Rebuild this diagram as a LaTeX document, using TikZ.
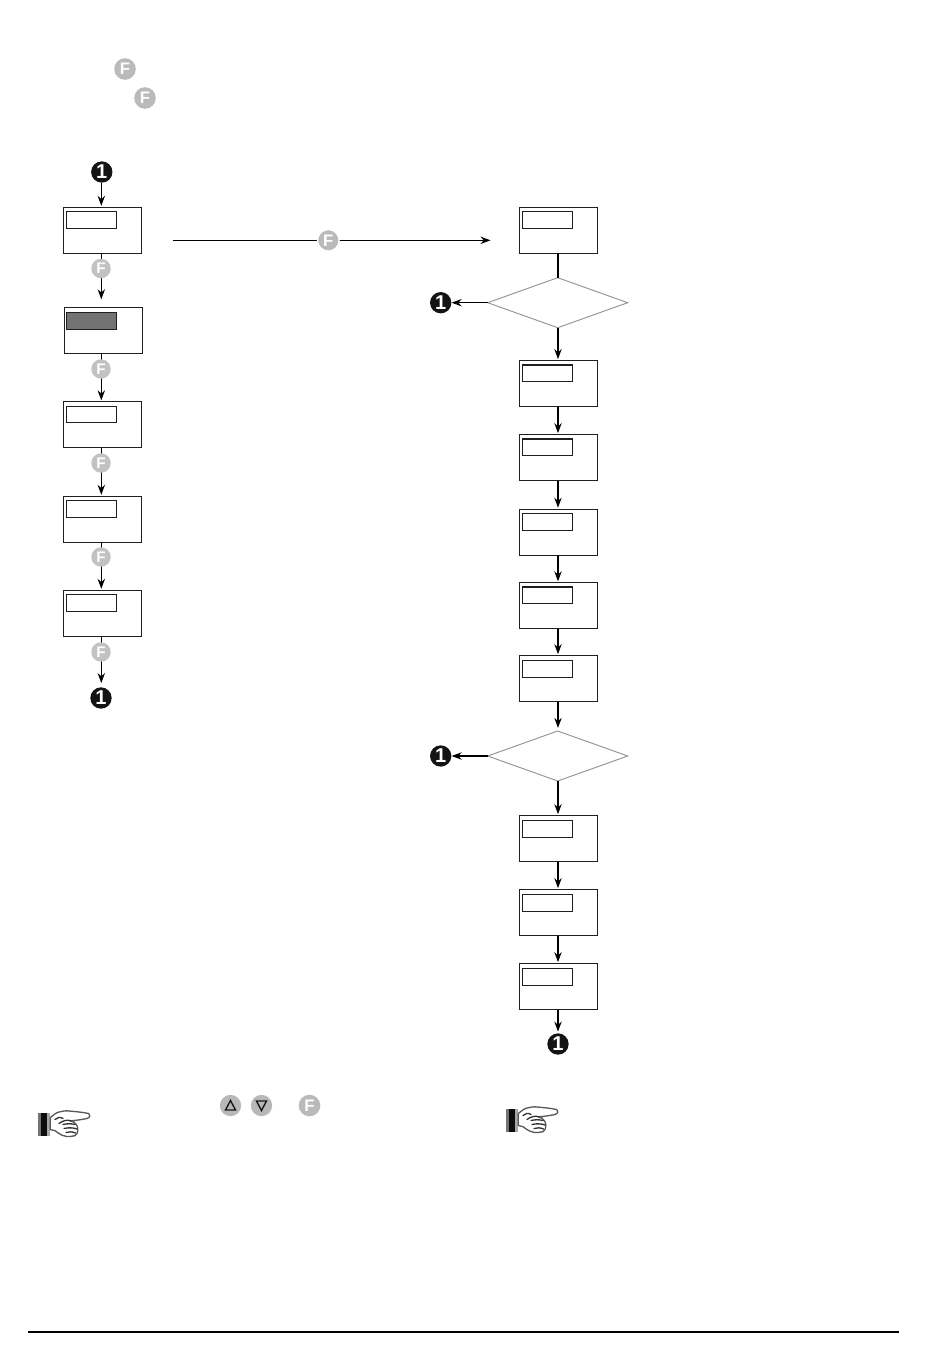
\documentclass[tikz,border=0pt]{standalone}
\usepackage{fontspec}
\setmainfont{Liberation Sans}
\usetikzlibrary{arrows.meta,shapes.geometric}
\tikzset{
  px/.style={x=0.75pt,y=-0.75pt},
  flowbox/.style={draw=black!88,line width=0.85pt,minimum width=58.5pt,minimum height=34.5pt,inner sep=0pt,outer sep=0pt,fill=white},
  lcd/.style={draw=black!88,line width=0.8pt,minimum width=37.4pt,minimum height=12.6pt,inner sep=0pt,outer sep=0pt,fill=white,anchor=north west},
  lcddark/.style={lcd,fill=black!55,line width=1pt},
  choice/.style={draw=black!42,line width=0.7pt,diamond,aspect=2.8,minimum width=105pt,minimum height=37.5pt,inner sep=0pt,outer sep=0pt,fill=white},
  keyF/.style={circle,fill=black!27,minimum size=16.2pt,inner sep=0pt,text=white,font=\bfseries\fontsize{12.5}{12.5}\selectfont},
  keyFsmall/.style={keyF,fill=black!24,minimum size=14.6pt,font=\bfseries\fontsize{11.5}{11.5}\selectfont},
  keyA/.style={circle,fill=black!28,minimum size=16pt,inner sep=0pt},
  mark1/.style={circle,fill=black!92,minimum size=16pt,inner sep=0pt,text=white,font=\bfseries\fontsize{15}{15}\selectfont},
  link/.style={draw=black,line width=1pt},
  flow/.style={link,-{Stealth[length=7.5pt,width=5.5pt]},shorten >=1.1pt},
}
\newcommand\handicon[2]{%
\begin{scope}[shift={(#1,#2)}]
  \fill[black!55] (0,0) rectangle (3,23);
  \fill[black!95] (3,0) rectangle (9,23);
  \fill[black!35] (9,0) rectangle (12,23);
  \draw[black!65,line width=1pt,fill=white,line join=round]
    (12.3,5) .. controls (16,2) and (19,-0.5) .. (22,-0.7)
    .. controls (25,-1.5) and (27,-1.7) .. (29,-1.7)
    .. controls (36,-1) and (44,-0.5) .. (50.7,1)
    .. controls (52.5,2) and (52.5,5) .. (49,6)
    .. controls (44,7) and (38,8) .. (32,8.3)
    .. controls (35,9) and (37,10) .. (37.3,11)
    .. controls (40,13) and (40.5,18) .. (39,21)
    .. controls (38,23) and (36,24) .. (34,23.7)
    .. controls (30,24.5) and (27,24) .. (24,22.7)
    .. controls (21,21.5) and (19,19.5) .. (17.3,18.3)
    -- (12.3,17) -- cycle;
  \draw[black!80,line width=1pt,line cap=round]
    (17,7) .. controls (19,5) and (22,4) .. (25,6)
    (21,11) .. controls (25,8) and (29,7) .. (33,8.3)
    (25,12) .. controls (29,11) and (34,11) .. (37,12)
    (26,16) .. controls (30,15) and (35,15) .. (39,16.5)
    (28,20) .. controls (31,19) and (34,19) .. (37.5,20.5);
\end{scope}}
\begin{document}
\begin{tikzpicture}[px]
\useasboundingbox (0,0) rectangle (950,1360);
% left column
\node[flowbox] (a1) at (102.3,230.3) {};
\node[flowbox] (a2) at (103.3,330.3) {};
\node[flowbox] (a3) at (102.3,424.8) {};
\node[flowbox] (a4) at (102.3,519.3) {};
\node[flowbox] (a5) at (102.3,613.3) {};
\node[lcd] (la1) at (66.4,211.6) {};
\node[lcddark] (la2) at (66.4,312.4) {};
\node[lcd] (la3) at (66.4,406.1) {};
\node[lcd] (la4) at (66.4,500.6) {};
\node[lcd] (la5) at (66.4,594.6) {};
\node[mark1] (s0) at (101.8,172) {1};
\node[mark1] (s1) at (101,698) {1};
\coordinate (ax) at (101.3,0);
\draw[flow] (ax |- s0.south) -- (ax |- a1.north);
\draw[flow,shorten >=6pt] (ax |- a1.south) -- (ax |- a2.north);
\draw[flow] (ax |- a2.south) -- (ax |- a3.north);
\draw[flow] (ax |- a3.south) -- (ax |- a4.north);
\draw[flow] (ax |- a4.south) -- (ax |- a5.north);
\draw[flow,shorten >=3pt] (ax |- a5.south) -- (ax |- s1.north);
\node[keyFsmall] (fa1) at (101,268.5) {F};
\node[keyFsmall] (fa2) at (101,369) {F};
\node[keyFsmall] (fa3) at (101,463) {F};
\node[keyFsmall] (fa4) at (101,557) {F};
\node[keyFsmall] (fa5) at (101,652) {F};
% top keys
\node[keyF] (ft1) at (125,69) {F};
\node[keyF] (ft2) at (145,98) {F};
% right column
\node[flowbox] (b1) at (558.3,230.3) {};
\node[flowbox] (b2) at (558.3,383.6) {};
\node[flowbox] (b3) at (558.3,457.6) {};
\node[flowbox] (b4) at (558.3,532.2) {};
\node[flowbox] (b5) at (558.3,605.8) {};
\node[flowbox] (b6) at (558.3,678.6) {};
\node[flowbox] (b7) at (558.3,838.6) {};
\node[flowbox] (b8) at (558.3,912.6) {};
\node[flowbox] (b9) at (558.3,986.6) {};
\node[lcd] (lb1) at (522.4,211.6) {};
\node[lcd] (lb2) at (522.4,365) {};
\node[lcd] (lb3) at (522.4,439) {};
\node[lcd] (lb4) at (522.4,513.5) {};
\node[lcd] (lb5) at (522.4,587) {};
\node[lcd] (lb6) at (522.4,660.3) {};
\node[lcd] (lb7) at (522.4,820.3) {};
\node[lcd] (lb8) at (522.4,894.3) {};
\node[lcd] (lb9) at (522.4,968.3) {};
\node[choice] (d1) at (557.7,302.7) {};
\node[choice] (d2) at (557.7,756) {};
\node[mark1] (e1) at (440.7,302.7) {1};
\node[mark1] (e2) at (440.7,756) {1};
\node[mark1] (e3) at (558,1044) {1};
\coordinate (bx) at (558,0);
\draw[link] (bx |- b1.south) -- (bx |- d1.north);
\draw[flow,shorten >=0pt] (d1.west) -- (e1);
\draw[flow] (bx |- d1.south) -- (bx |- b2.north);
\draw[flow] (bx |- b2.south) -- (bx |- b3.north);
\draw[flow] (bx |- b3.south) -- (bx |- b4.north);
\draw[flow] (bx |- b4.south) -- (bx |- b5.north);
\draw[flow] (bx |- b5.south) -- (bx |- b6.north);
\draw[flow,shorten >=2.3pt] (bx |- b6.south) -- (bx |- d2.north);
\draw[flow,shorten >=0pt] (d2.west) -- (e2);
\draw[flow] (bx |- d2.south) -- (bx |- b7.north);
\draw[flow] (bx |- b7.south) -- (bx |- b8.north);
\draw[flow] (bx |- b8.south) -- (bx |- b9.north);
\draw[flow] (bx |- b9.south) -- (e3);
% long arrow
\coordinate (h0) at (172.5,240.3);
\coordinate (h1) at (492,240.3);
\draw[flow] (h0) -- (h1);
\node[keyF,draw=white,line width=1pt] (fh) at (328.3,240.3) {F};
% bottom keys
\node[keyA] (kup) at (230.5,1105.5) {};
\node[keyA] (kdn) at (261.5,1105.5) {};
\node[keyF] (kf) at (309.5,1105.5) {F};
\draw[black!90,line width=1.05pt,line join=miter] ([shift={(0,-5)}]kup.center) -- ([shift={(5,4.5)}]kup.center) -- ([shift={(-5,4.5)}]kup.center) -- cycle;
\draw[black!90,line width=1.05pt,line join=miter] ([shift={(0,5)}]kdn.center) -- ([shift={(5,-4.5)}]kdn.center) -- ([shift={(-5,-4.5)}]kdn.center) -- cycle;
% hands
\handicon{38}{1112.5}
\handicon{506}{1108.5}
% footer rule
\coordinate (r0) at (28,1332);
\coordinate (r1) at (899,1332);
\draw[black,line width=1.2pt] (r0) -- (r1);
\end{tikzpicture}
\end{document}
